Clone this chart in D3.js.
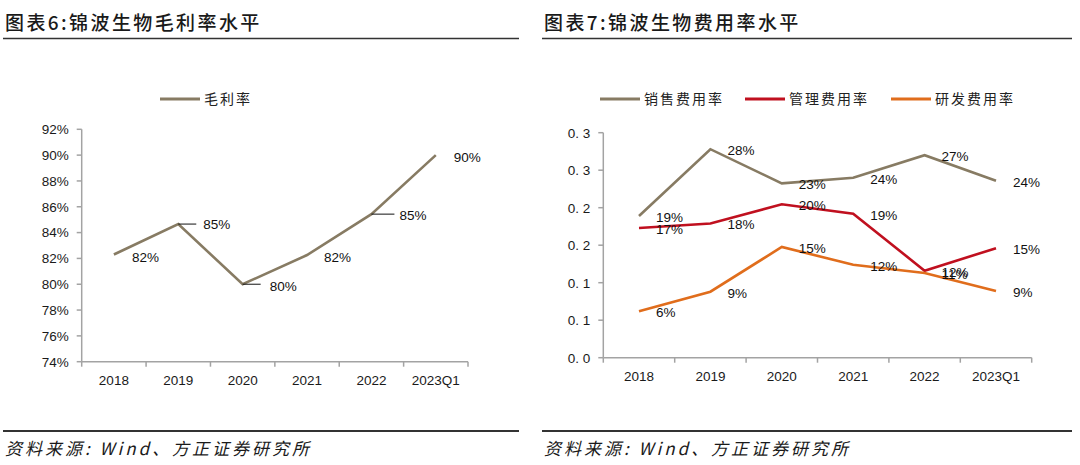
<!DOCTYPE html>
<html>
<head>
<meta charset="utf-8">
<script src="https://cdn.jsdelivr.net/npm/d3@7"></script>
<style>
  html, body { margin: 0; padding: 0; background: #fff; }
  svg { display: block; }
</style>
</head>
<body>
<svg id="chart" width="1080" height="465"></svg>
<script>
// ---------- data ----------
const categories = ["2018", "2019", "2020", "2021", "2022", "2023Q1"];
const grossMargin = [0.823, 0.8466, 0.800, 0.8226, 0.8543, 0.900];
const grossTicks = [0.74, 0.76, 0.78, 0.80, 0.82, 0.84, 0.86, 0.88, 0.90, 0.92];

const salesRate = [0.189, 0.278, 0.2325, 0.240, 0.270, 0.236];
const adminRate = [0.173, 0.179, 0.2045, 0.192, 0.116, 0.146];
const rdRate    = [0.062, 0.088, 0.1476, 0.124, 0.113, 0.089];
const expenseTicks = [0, 0.05, 0.10, 0.15, 0.20, 0.25, 0.30];
const expenseTickLabels = ["0. 0", "0. 1", "0. 1", "0. 2", "0. 2", "0. 3", "0. 3"];

const title1 = "图表6:锦波生物毛利率水平";
const title2 = "图表7:锦波生物费用率水平";
const source = "资料来源: Wind、方正证券研究所";
const legend1 = ["毛利率"];
const legend2 = ["销售费用率", "管理费用率", "研发费用率"];

// ---------- styles ----------
const C_BROWN = "#877b63", C_RED = "#c0101f", C_ORANGE = "#e06d1c";
const AXIS = "#a3a3a3";
const CJK = "'Noto Sans CJK SC', 'Noto Sans', sans-serif";
const LAT = "'Liberation Sans', Arial, sans-serif";
const FS = 13.5;

const svg = d3.select("#chart");
const fmtPct = d3.format(".0%");

// ---------- headers / footers ----------
function header(x0, x1, title) {
  svg.append("text").attr("x", x0 + 2).attr("y", 30)
    .attr("font-family", CJK).attr("font-size", 19).attr("font-weight", 500)
    .attr("letter-spacing", 2.4).attr("fill", "#1a1a1a").text(title);
  svg.append("line").attr("x1", x0).attr("x2", x1).attr("y1", 38.5).attr("y2", 38.5)
    .attr("stroke", "#333").attr("stroke-width", 1.5);
  svg.append("line").attr("x1", x0).attr("x2", x1).attr("y1", 431).attr("y2", 431)
    .attr("stroke", "#333").attr("stroke-width", 2);
  svg.append("text").attr("x", x0 + 2).attr("y", 455)
    .attr("font-family", CJK).attr("font-size", 17).attr("font-style", "italic")
    .attr("letter-spacing", 3).attr("fill", "#1a1a1a").text(source);
}
header(3, 519, title1);
header(542, 1072, title2);

function legend(items, colors, xs, y) {
  items.forEach((name, i) => {
    svg.append("line").attr("x1", xs[i]).attr("x2", xs[i] + 40).attr("y1", y).attr("y2", y)
      .attr("stroke", colors[i]).attr("stroke-width", 3);
    svg.append("text").attr("x", xs[i] + 44).attr("y", y).attr("dy", "0.36em")
      .attr("font-family", CJK).attr("font-size", 14).attr("letter-spacing", 2)
      .attr("fill", "#222").text(name);
  });
}
legend(legend1, [C_BROWN], [160], 99);
legend(legend2, [C_BROWN, C_RED, C_ORANGE], [600, 745, 891], 99);

// ---------- axis helper ----------
function drawAxes(x, y, ticks, tickFmt, labelY) {
  const [x0, x1] = x.range();
  const [yb, yt] = y.range();
  const g = svg.append("g");
  g.append("line").attr("x1", x0).attr("x2", x0).attr("y1", yt).attr("y2", yb)
    .attr("stroke", AXIS).attr("stroke-width", 1.5);
  g.append("line").attr("x1", x0).attr("x2", x1).attr("y1", yb).attr("y2", yb)
    .attr("stroke", AXIS).attr("stroke-width", 1.5);
  ticks.forEach((t, i) => {
    g.append("line").attr("x1", x0 - 5).attr("x2", x0).attr("y1", y(t)).attr("y2", y(t))
      .attr("stroke", AXIS).attr("stroke-width", 1.5);
    g.append("text").attr("x", x0 - 13).attr("y", y(t)).attr("dy", "0.36em")
      .attr("text-anchor", "end").attr("font-family", LAT).attr("font-size", FS)
      .attr("fill", "#1a1a1a").text(tickFmt(t, i));
  });
  const bounds = [x0].concat(categories.map(c => x(c) + x.bandwidth()));
  bounds.forEach(b => {
    g.append("line").attr("x1", b).attr("x2", b).attr("y1", yb).attr("y2", yb + 5)
      .attr("stroke", AXIS).attr("stroke-width", 1.5);
  });
  categories.forEach(c => {
    g.append("text").attr("x", x(c) + x.bandwidth() / 2).attr("y", labelY).attr("dy", "0.36em")
      .attr("text-anchor", "middle").attr("font-family", LAT).attr("font-size", FS)
      .attr("fill", "#1a1a1a").text(c);
  });
}

function drawLine(x, y, values, color) {
  const line = d3.line()
    .x((d, i) => x(categories[i]) + x.bandwidth() / 2)
    .y(d => y(d));
  svg.append("path").datum(values).attr("d", line)
    .attr("fill", "none").attr("stroke", color).attr("stroke-width", 2.6)
    .attr("stroke-linejoin", "miter");
}

// ---------- chart 1 : gross margin ----------
const x1 = d3.scaleBand().domain(categories).range([81.7, 468]).paddingInner(0).paddingOuter(0);
const y1 = d3.scaleLinear().domain([0.74, 0.92]).range([361.7, 129.3]);
drawAxes(x1, y1, grossTicks, t => fmtPct(t), 380);
drawLine(x1, y1, grossMargin, C_BROWN);

// label placement: dx offset, dy offset, leader line length (0 = none)
const grossLabelPlace = [
  { dx: 18, dy: 2.5, lead: 0 },
  { dx: 25, dy: 0.5, lead: 18 },
  { dx: 27, dy: 2, lead: 18 },
  { dx: 17, dy: 1.7, lead: 0 },
  { dx: 28, dy: 1, lead: 23 },
  { dx: 18, dy: 1.7, lead: 0 }
];
grossMargin.forEach((v, i) => {
  const cx = x1(categories[i]) + x1.bandwidth() / 2, cy = y1(v);
  const p = grossLabelPlace[i];
  if (p.lead) {
    svg.append("line").attr("x1", cx).attr("x2", cx + p.lead).attr("y1", cy).attr("y2", cy)
      .attr("stroke", "#111").attr("stroke-width", 1);
  }
  svg.append("text").attr("x", cx + p.dx).attr("y", cy + p.dy).attr("dy", "0.36em")
    .attr("font-family", LAT).attr("font-size", FS).attr("fill", "#111").text(fmtPct(v));
});

// ---------- chart 2 : expense ratios ----------
const x2 = d3.scaleBand().domain(categories).range([603.3, 1031.7]).paddingInner(0).paddingOuter(0);
const y2 = d3.scaleLinear().domain([0, 0.30]).range([357.7, 132.7]);
drawAxes(x2, y2, expenseTicks, (t, i) => expenseTickLabels[i], 376);
const series2 = [
  { values: salesRate, color: C_BROWN },
  { values: adminRate, color: C_RED },
  { values: rdRate, color: C_ORANGE }
];
series2.forEach(s => drawLine(x2, y2, s.values, s.color));
series2.forEach(s => {
  s.values.forEach((v, i) => {
    const cx = x2(categories[i]) + x2.bandwidth() / 2, cy = y2(v);
    svg.append("text").attr("x", cx + 17).attr("y", cy + 1).attr("dy", "0.36em")
      .attr("font-family", LAT).attr("font-size", FS).attr("fill", "#111").text(fmtPct(v));
  });
});
</script>
</body>
</html>
